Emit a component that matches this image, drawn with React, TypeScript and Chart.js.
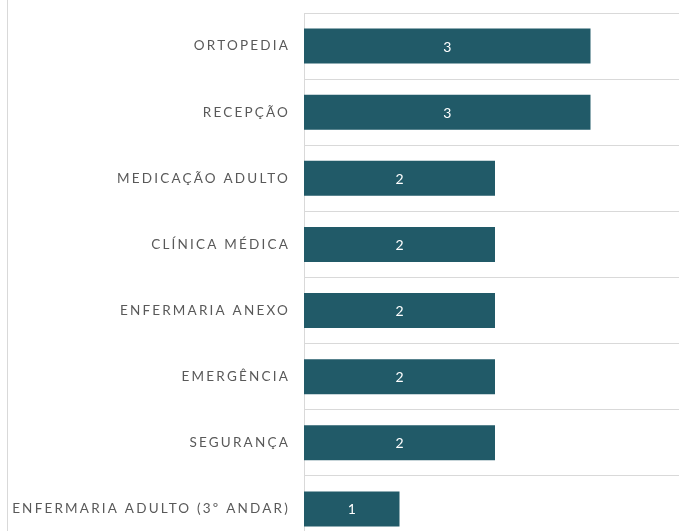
import React, { useEffect, useRef } from "react";
import { Chart, registerables } from "chart.js";

Chart.register(...registerables);

const categories = [
  "ORTOPEDIA",
  "RECEPÇÃO",
  "MEDICAÇÃO ADULTO",
  "CLÍNICA MÉDICA",
  "ENFERMARIA ANEXO",
  "EMERGÊNCIA",
  "SEGURANÇA",
  "ENFERMARIA ADULTO (3º ANDAR)",
];
const values = [3, 3, 2, 2, 2, 2, 2, 1];

const BAR_COLOR = "#215a68";
const GRID_COLOR = "#d9d9d9";
const LABEL_COLOR = "#595959";
const FONT = "Lato, 'Open Sans', sans-serif";

export default function App() {
  const ref = useRef<HTMLCanvasElement | null>(null);

  useEffect(() => {
    if (!ref.current) return;
    const spacingPlugin = {
      id: "spacing",
      beforeDraw(chart: any) {
        chart.ctx.letterSpacing = "2.2px";
      },
    };
    const dataLabels = {
      id: "dataLabels",
      afterDatasetsDraw(chart: any) {
        const ctx = chart.ctx;
        ctx.save();
        ctx.letterSpacing = "0px";
        ctx.font = `14px ${FONT}`;
        ctx.fillStyle = "#ffffff";
        ctx.textAlign = "center";
        ctx.textBaseline = "middle";
        const meta = chart.getDatasetMeta(0);
        meta.data.forEach((bar: any, i: number) => {
          const x = (bar.x + bar.base) / 2;
          ctx.fillText(String(values[i]), x, bar.y + 1);
        });
        ctx.restore();
      },
    };
    const chart = new Chart(ref.current, {
      type: "bar",
      data: {
        labels: categories,
        datasets: [
          {
            data: values,
            backgroundColor: BAR_COLOR,
            barPercentage: 0.53,
            categoryPercentage: 1,
          },
        ],
      },
      options: {
        indexAxis: "y",
        animation: false,
        responsive: false,
        layout: { padding: { top: 13, left: 0, right: 0, bottom: 0 } },
        plugins: {
          legend: { display: false },
          tooltip: { enabled: false },
        },
        scales: {
          x: {
            display: false,
            min: 0,
            max: 4,
          },
          y: {
            grid: {
              offset: true,
              color: GRID_COLOR,
              lineWidth: 1,
              drawTicks: false,
            },
            border: { display: true, color: GRID_COLOR },
            ticks: {
              color: LABEL_COLOR,
              padding: 14,
              font: { family: FONT, size: 13.5 },
            },
            afterFit(scale: any) {
              scale.width = 304;
              scale.paddingTop = 0;
              scale.paddingBottom = 0;
            },
          },
        },
      },
      plugins: [spacingPlugin, dataLabels],
    });
    return () => chart.destroy();
  }, []);

  return (
    <div
      style={{
        position: "fixed",
        left: 0,
        top: 0,
        width: 679,
        height: 531,
        overflow: "hidden",
        background: "#ffffff",
      }}
    >
      <div
        style={{
          position: "absolute",
          left: 7,
          top: 0,
          width: 1,
          height: 531,
          background: GRID_COLOR,
        }}
      />
      <canvas
        ref={ref}
        width={686}
        height={542}
        style={{ position: "absolute", left: 0, top: 0 }}
      />
    </div>
  );
}
